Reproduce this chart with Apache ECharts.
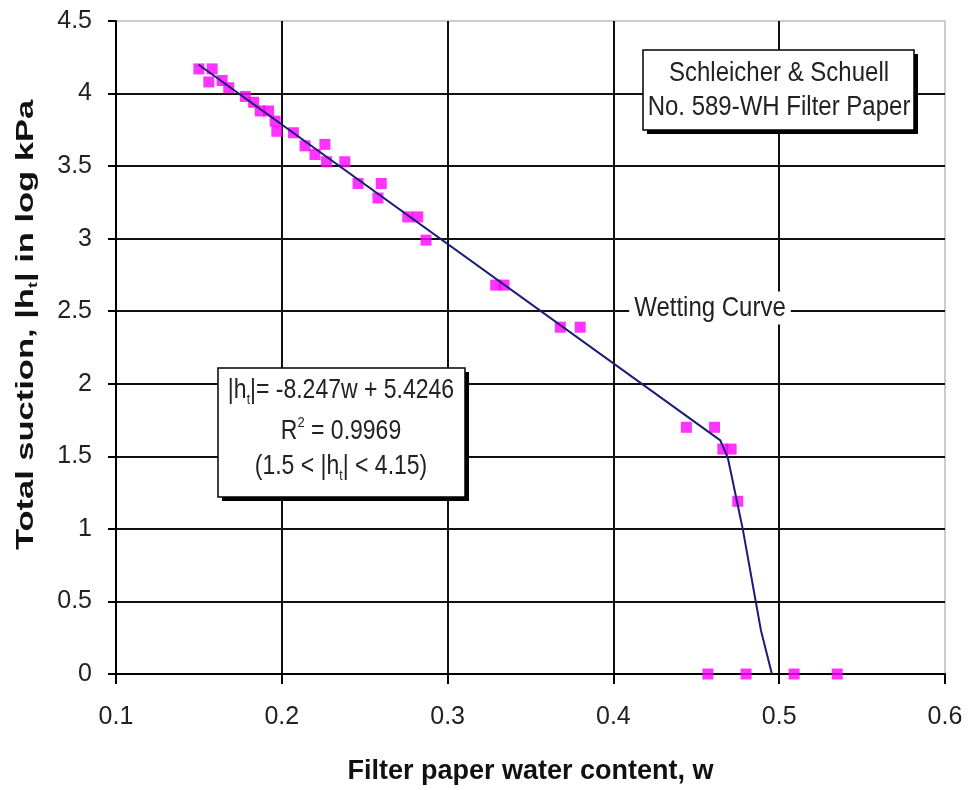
<!DOCTYPE html>
<html>
<head>
<meta charset="utf-8">
<title>Filter paper wetting curve</title>
<script src="https://cdn.jsdelivr.net/npm/echarts@6.0.0/dist/echarts.min.js"></script>
<style>
html, body { margin: 0; padding: 0; background: #fff; }
#main { width: 969px; height: 790px; }
</style>
</head>
<body>
<div id="main"></div>
<script>
// measured points (filter paper water content w, total suction in log kPa)
var wetW = [0.150, 0.158, 0.156, 0.164, 0.168, 0.178, 0.183, 0.187, 0.192, 0.196,
            0.197, 0.207, 0.214, 0.226, 0.220, 0.227, 0.238, 0.246, 0.260, 0.258,
            0.276, 0.282, 0.287, 0.329, 0.334, 0.368, 0.380, 0.444, 0.461, 0.466,
            0.471, 0.475, 0.457, 0.480, 0.509, 0.535];
var wetH = [4.17, 4.17, 4.08, 4.09, 4.04, 3.98, 3.94, 3.88, 3.88, 3.81,
            3.74, 3.73, 3.64, 3.65, 3.58, 3.53, 3.53, 3.38, 3.38, 3.28,
            3.15, 3.15, 2.99, 2.68, 2.68, 2.39, 2.39, 1.70, 1.70, 1.55,
            1.55, 1.19, 0, 0, 0, 0];
// wetting curve as drawn on the chart
var curveW = [0.1497, 0.4645, 0.469, 0.478, 0.489, 0.4956];
var curveH = [4.20, 1.61, 1.49, 1.00, 0.30, 0];
// axis ticks
var xTicks = [0.1, 0.2, 0.3, 0.4, 0.5, 0.6];
var yTicks = [0, 0.5, 1, 1.5, 2, 2.5, 3, 3.5, 4, 4.5];

var FONT = "'Liberation Sans', Arial, sans-serif";

function pairs(xs, ys) {
  var out = [];
  for (var i = 0; i < xs.length; i++) out.push([xs[i], ys[i]]);
  return out;
}

var chart = echarts.init(document.getElementById('main'));

// boxes with the black drop shadow
function shadowBox(x, y, w, h) {
  return [
    { type: 'rect', z: 100, shape: { x: x + 4, y: y + 4, width: w, height: h }, style: { fill: '#000' } },
    { type: 'rect', z: 101, shape: { x: x, y: y, width: w, height: h }, style: { fill: '#fff', stroke: '#000', lineWidth: 1.5 } }
  ];
}
function boxText(x, y, text, size, rich) {
  return {
    type: 'text', z: 102, x: x, y: y, scaleY: 1.18,
    style: {
      text: text, align: 'center', verticalAlign: 'middle',
      fill: '#222', fontFamily: FONT, fontSize: size, rich: rich
    }
  };
}
var rich = {
  n: { fontSize: 23, fontFamily: FONT, lineHeight: 28, fill: '#222' },
  sub: { fontSize: 12, fontFamily: FONT, lineHeight: 12, verticalAlign: 'bottom', fill: '#222' },
  sup: { fontSize: 13, fontFamily: FONT, lineHeight: 13, verticalAlign: 'top', fill: '#222' }
};

var graphics = []
  .concat(shadowBox(643, 50, 271, 80))
  .concat([
    boxText(779, 73, 'Schleicher & Schuell', 24),
    boxText(779, 107, 'No. 589-WH Filter Paper', 24)
  ])
  .concat(shadowBox(218, 368, 247, 129))
  .concat([
    boxText(341, 391, '{n||h}{sub|t}{n||= -8.247w + 5.4246}', 23, rich),
    boxText(341, 432, '{n|R}{sup|2}{n| = 0.9969}', 23, rich),
    boxText(341, 467, '{n|(1.5 < |h}{sub|t}{n|| < 4.15)}', 23, rich),
    {
      type: 'text', z: 102, x: 710, y: 308, scaleY: 1.18,
      style: {
        text: 'Wetting Curve', align: 'center', verticalAlign: 'middle',
        fill: '#222', fontFamily: FONT, fontSize: 24,
        backgroundColor: '#fff', padding: [2, 5]
      }
    },
    {
      // y axis title, stretched along its length like the original
      type: 'text', z: 102, x: 27, y: 325, rotation: Math.PI / 2, scaleX: 1.5,
      style: {
        text: '{b|Total suction, |h}{bs|t}{b|| in log kPa}',
        align: 'center', verticalAlign: 'middle',
        rich: {
          b: { fontSize: 23, fontWeight: 'bold', fontFamily: FONT, lineHeight: 26, fill: '#111' },
          bs: { fontSize: 12, fontWeight: 'bold', fontFamily: FONT, lineHeight: 12, verticalAlign: 'bottom', fill: '#111' }
        }
      }
    }
  ]);

chart.setOption({
  animation: false,
  backgroundColor: '#fff',
  grid: {
    left: 116, right: 24, top: 21, bottom: 115,
    show: true, borderColor: '#999', borderWidth: 1
  },
  xAxis: {
    type: 'value',
    min: xTicks[0],
    max: xTicks[xTicks.length - 1],
    interval: 0.1,
    name: 'Filter paper water content, w',
    nameLocation: 'middle',
    nameGap: 84,
    nameTextStyle: { fontFamily: FONT, fontSize: 27, fontWeight: 'bold', color: '#111' },
    axisLine: { lineStyle: { color: '#000', width: 2 } },
    axisTick: { length: 10, lineStyle: { color: '#000', width: 2 } },
    axisLabel: { margin: 31, fontFamily: FONT, fontSize: 25, color: '#222' },
    splitLine: { showMinLine: false, showMaxLine: false, lineStyle: { color: '#111', width: 2 } }
  },
  yAxis: {
    type: 'value',
    min: yTicks[0],
    max: yTicks[yTicks.length - 1],
    interval: 0.5,
    axisLine: { show: true, lineStyle: { color: '#000', width: 2 } },
    axisTick: { show: true, length: 8, lineStyle: { color: '#000', width: 2 } },
    axisLabel: { margin: 24, fontFamily: FONT, fontSize: 25, color: '#222' },
    splitLine: { showMinLine: false, showMaxLine: false, lineStyle: { color: '#111', width: 2 } }
  },
  series: [
    {
      type: 'scatter',
      symbol: 'rect',
      symbolSize: 11,
      itemStyle: { color: '#ff00ff' },
      data: pairs(wetW, wetH),
      z: 3
    },
    {
      type: 'line',
      showSymbol: false,
      lineStyle: { color: '#1c1c78', width: 2 },
      data: pairs(curveW, curveH),
      z: 4
    }
  ],
  graphic: graphics
});
</script>
</body>
</html>
